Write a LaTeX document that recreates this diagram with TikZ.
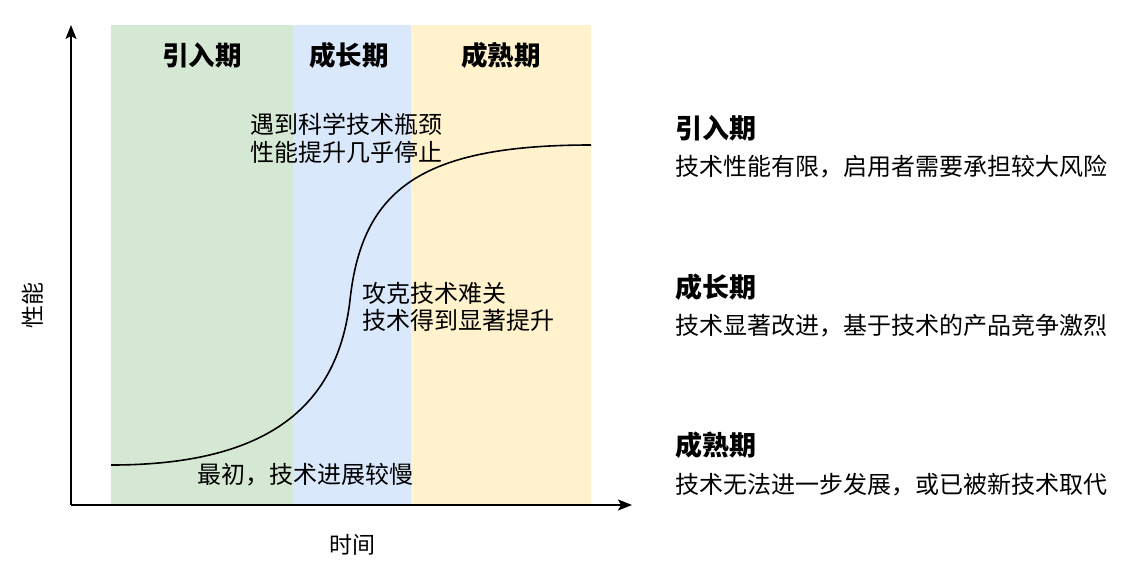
\documentclass[tikz,border=0pt]{standalone}
\usepackage{fontspec}
\setmainfont{Noto Sans CJK SC}
\usetikzlibrary{arrows.meta}
\definecolor{bgreen}{HTML}{D5E8D4}
\definecolor{bblue}{HTML}{DAE8FC}
\definecolor{byellow}{HTML}{FFF2CC}
\tikzset{
  phase/.style={font=\fontsize{26.5}{30}\selectfont\bfseries, inner sep=0pt},
  note/.style={font=\fontsize{24}{27.5}\selectfont, inner sep=0pt, align=left, anchor=west},
  rhead/.style={font=\fontsize{27}{30}\selectfont\bfseries, inner sep=0pt, anchor=west},
  rbody/.style={font=\fontsize{24}{26}\selectfont, inner sep=0pt, anchor=west},
  axlab/.style={font=\fontsize{23}{26}\selectfont, inner sep=0pt},
  axis/.style={line width=1.6pt, -{Stealth[length=14pt,width=11pt,inset=3pt]}},
  scurve/.style={line width=1.6pt},
}
\begin{document}
\begin{tikzpicture}[x=1pt,y=-1pt]
\useasboundingbox (0,0) rectangle (1142,576);
% bands
\fill[bgreen] (111,25) rectangle (293,505);
\fill[bblue] (293,25) rectangle (411,505);
\fill[byellow] (411,25) rectangle (591,505);
% headings
\node[phase] (h1) at (202,55) {引入期};
\node[phase] (h2) at (349,55) {成长期};
\node[phase] (h3) at (501,55) {成熟期};
% axes
\coordinate (o) at (71,505);
\coordinate (ytip) at (71,25);
\coordinate (xtip) at (632,505);
\draw[axis] (o) -- (ytip);
\draw[axis] (o) -- (xtip);
\node[axlab, rotate=90] (ylab) at (33,305) {性能};
\node[axlab] (xlab) at (352,545) {时间};
% curve
\coordinate (c0) at (111,465);
\coordinate (c1) at (350,300);
\coordinate (c2) at (591,145);
\draw[scurve] (c0) .. controls (270,465) and (338,405) .. (c1)
  .. controls (362,190) and (420,145) .. (c2);
% notes
\node[note] (n1) at (250,138.5) {遇到科学技术瓶颈\\性能提升几乎停止};
\node[note] (n2) at (362,307) {攻克技术难关\\技术得到显著提升};
\node[note] (n3) at (197,475) {最初，技术进展较慢};
% right side
\node[rhead] (r1) at (675,128) {引入期};
\node[rbody] (b1) at (675,167) {技术性能有限，启用者需要承担较大风险};
\node[rhead] (r2) at (675,287) {成长期};
\node[rbody] (b2) at (675,326) {技术显著改进，基于技术的产品竞争激烈};
\node[rhead] (r3) at (675,445) {成熟期};
\node[rbody] (b3) at (675,485) {技术无法进一步发展，或已被新技术取代};
\end{tikzpicture}
\end{document}
